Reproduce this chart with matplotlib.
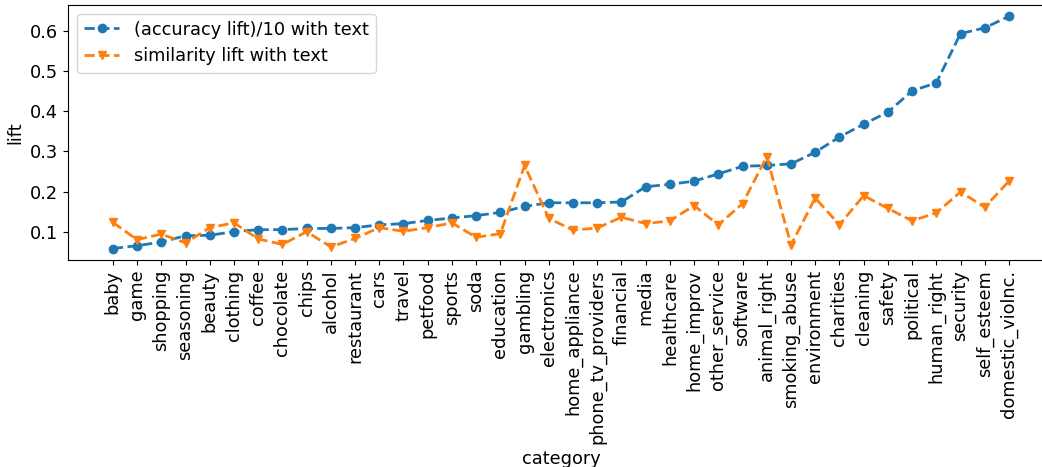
import matplotlib
matplotlib.use("Agg")
import matplotlib.pyplot as plt

categories = [
    "baby", "game", "shopping", "seasoning", "beauty", "clothing", "coffee",
    "chocolate", "chips", "alcohol", "restaurant", "cars", "travel", "petfood",
    "sports", "soda", "education", "gambling", "electronics", "home_appliance",
    "phone_tv_providers", "financial", "media", "healthcare", "home_improv",
    "other_service", "software", "animal_right", "smoking_abuse", "environment",
    "charities", "cleaning", "safety", "political", "human_right", "security",
    "self_esteem", "domestic_violnc.",
]

# (accuracy lift)/10 with text
accuracy_lift = [
    0.058, 0.065, 0.074, 0.090, 0.091, 0.100, 0.105, 0.105, 0.108, 0.108,
    0.110, 0.117, 0.120, 0.128, 0.134, 0.140, 0.148, 0.163, 0.172, 0.172,
    0.172, 0.174, 0.212, 0.218, 0.226, 0.244, 0.263, 0.265, 0.269, 0.298,
    0.336, 0.368, 0.398, 0.451, 0.471, 0.594, 0.608, 0.637,
]

# similarity lift with text
similarity_lift = [
    0.123, 0.080, 0.094, 0.072, 0.110, 0.122, 0.082, 0.068, 0.100, 0.062,
    0.083, 0.110, 0.101, 0.110, 0.122, 0.086, 0.095, 0.265, 0.133, 0.104,
    0.109, 0.136, 0.120, 0.127, 0.165, 0.117, 0.170, 0.287, 0.067, 0.184,
    0.117, 0.190, 0.158, 0.127, 0.147, 0.199, 0.161, 0.226,
]

plt.rcParams["font.size"] = 12.75

fig = plt.figure(figsize=(10.42, 4.67), dpi=100)
ax = fig.add_axes([0.0653, 0.443, 0.946, 0.547])

ax.plot(categories, accuracy_lift, "--o", color="#1f77b4", linewidth=2,
        markersize=6, label="(accuracy lift)/10 with text")
ax.plot(categories, similarity_lift, "--v", color="#ff7f0e", linewidth=2,
        markersize=6, label="similarity lift with text")

ax.set_xlabel("category")
ax.set_ylabel("lift")
ax.tick_params(axis="x", labelrotation=90)
ax.legend(loc="upper left")

fig.savefig("out.png", dpi=100)
